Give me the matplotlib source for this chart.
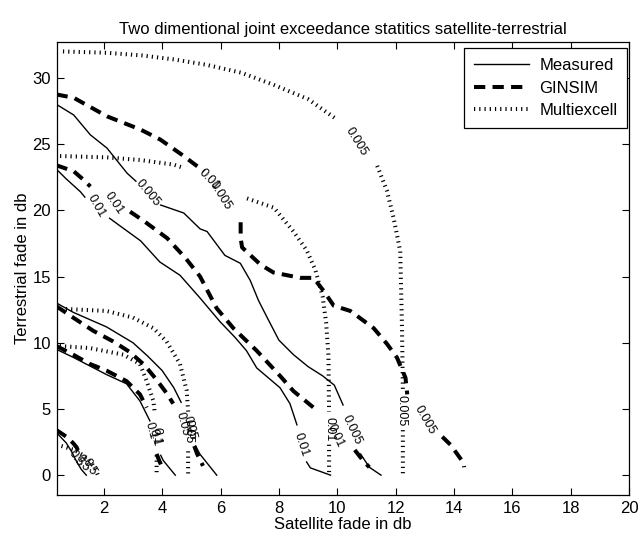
import numpy as np
import matplotlib
matplotlib.use("Agg")
import matplotlib.pyplot as plt

plt.rcParams['font.family'] = ['Liberation Sans', 'DejaVu Sans']

nan = np.nan

# ---------------- data (x = satellite fade dB, y = terrestrial fade dB) ----------------
# Measured contours
meas_0005_x = [0.38, 0.97, 1.54, 2.11, 2.8, 3.1, nan, 3.95, 4.74, 5.3, 5.54, 6.15, 6.68, 7.02, 7.3, 7.6, 8.0, 8.5, 9.0, 9.5, 9.9, 10.2, nan, 10.8, 11.1, 11.5]
meas_0005_y = [28.0, 27.2, 25.7, 24.7, 22.8, 22.2, nan, 20.4, 19.8, 18.6, 18.4, 16.6, 16.0, 14.7, 13.2, 11.9, 10.2, 9.1, 8.2, 7.5, 6.8, 5.3, nan, 1.6, 0.6, 0.0]
meas_001_x = [0.38, 0.7, 1.2, 1.35, nan, 2.2, 2.51, 3.26, 3.92, 4.61, 5.29, 5.98, 6.5, 6.89, 7.24, 8.04, 8.38, 8.62, nan, 8.95, 9.08, 9.77]
meas_001_y = [23.1, 22.4, 21.4, 21.0, nan, 19.4, 18.9, 17.7, 16.1, 15.1, 13.4, 11.6, 10.4, 9.4, 8.1, 6.6, 5.4, 3.8, nan, 1.0, 0.55, 0.0]
meas_005_x = [0.38, 0.95, 2.09, 3.0, 3.5, 4.0, 4.4, 4.65, nan, 5.15, 5.29, 5.87]
meas_005_y = [13.0, 12.3, 11.2, 10.0, 9.0, 7.9, 6.6, 5.5, nan, 2.2, 1.6, 0.0]
meas_01_x = [0.38, 0.95, 2.09, 2.78, 3.24, 3.58, nan, 3.95, 4.04, 4.45]
meas_01_y = [9.5, 8.9, 7.6, 6.9, 5.6, 4.1, nan, 1.5, 1.1, 0.0]
meas_05_x = [0.38, 0.71, 0.89, 1.06, 1.23, 1.4]
meas_05_y = [3.2, 2.44, 1.8, 1.06, 0.43, 0.0]

# GINSIM contours
gin_0005_x = [0.38, 0.97, 2.11, 3.26, 3.94, 4.74, 5.43, nan, 6.69, 6.69, 6.74, 7.37, 7.82, 8.74, 9.19, 9.54, 9.88, 10.45, 11.25, 11.71, 12.05, 12.34, 12.4, nan, 13.6, 13.88, 14.33, 14.35]
gin_0005_y = [28.75, 28.5, 27.1, 26.1, 25.34, 24.1, 22.95, nan, 19.1, 17.9, 17.2, 15.9, 15.3, 14.9, 14.9, 13.9, 12.8, 12.4, 11.1, 9.9, 8.87, 7.35, 6.1, nan, 2.9, 2.3, 0.93, 0.6]
gin_001_x = [0.38, 0.97, 1.31, 1.54, nan, 2.9, 3.37, 4.17, 4.8, 5.3, 5.87, 6.44, 7.24, 8.04, 8.5, 9.19, nan, 10.6, 10.9, 11.1]
gin_001_y = [23.4, 22.95, 22.3, 21.8, nan, 19.9, 19.2, 17.9, 16.4, 15.0, 12.6, 11.1, 9.4, 7.5, 6.35, 5.1, nan, 1.9, 1.06, 0.6]
gin_005_x = [0.38, 0.95, 1.64, 2.32, 2.89, 3.4, 3.81, 4.15, 4.38, nan, 5.1, 5.2, 5.4]
gin_005_y = [12.75, 11.9, 10.9, 10.1, 9.3, 8.3, 7.2, 6.2, 5.4, nan, 2.2, 1.6, 0.7]
gin_01_x = [0.38, 0.95, 1.52, 2.09, 2.78, 3.24, 3.47, nan, 3.81, 3.9, 4.0]
gin_01_y = [9.75, 9.1, 8.4, 7.9, 7.1, 6.1, 5.1, nan, 1.6, 1.1, 0.6]
gin_05_x = [0.38, 0.72, 0.94, 1.07, 1.17]
gin_05_y = [3.4, 2.9, 2.44, 2.1, 1.56]

# Multiexcell contours
mex_0005_x = [0.6, 2.1, 3.3, 4.4, 5.5, 6.7, 7.8, 9.0, 9.9, nan, 11.37, 11.7, 11.93, 12.16, 12.22, 12.25, nan, 12.25, 12.25]
mex_0005_y = [32.0, 31.9, 31.7, 31.4, 31.0, 30.4, 29.5, 28.4, 27.0, nan, 23.36, 21.5, 19.45, 16.9, 11.1, 6.4, nan, 3.4, 0.0]
mex_001_x = [0.5, 2.1, 3.26, 4.4, 4.74, nan, 6.91, 7.83, 8.5, 8.95, 9.25, 9.5, 9.62, 9.7, 9.72, nan, 9.72, 9.72]
mex_001_y = [24.1, 24.0, 23.8, 23.45, 23.2, nan, 20.9, 20.2, 18.4, 17.0, 15.5, 13.5, 11.5, 9.0, 4.8, nan, 2.3, 0.0]
mex_005_x = [0.7, 2.09, 3.0, 3.7, 4.15, 4.61, 4.84, 4.89, nan, 4.89, 4.89]
mex_005_y = [12.55, 12.4, 11.9, 11.1, 10.1, 8.4, 6.4, 4.8, nan, 1.8, 0.0]
mex_01_x = [0.49, 1.52, 2.67, 3.24, 3.47, 3.7, 3.75, nan, 3.81, 3.81]
mex_01_y = [9.75, 9.6, 9.1, 8.4, 7.1, 5.6, 4.6, nan, 1.5, 0.0]
mex_05_x = [0.55, 1.0, 1.3, 1.55, 1.7, 1.8]
mex_05_y = [2.2, 1.9, 1.5, 1.0, 0.5, 0.0]

# contour level labels: (text, x, y, angle)
labels_text = ["0.005", "0.01", "0.01", "0.005", "0.05", "0.1", "0.5",
               "0.005", "0.01", "0.01", "0.005", "0.05", "0.1", "0.5",
               "0.005", "0.01", "0.01", "0.005", "0.05", "0.1", "0.5"]
labels_x = [3.5, 1.75, 8.75, 10.5, 4.95, 3.75, 1.25,
            6.0, 2.35, 9.95, 13.0, 4.7, 3.6, 1.05,
            10.65, 5.6, 9.72, 12.22, 4.89, 3.81, 1.5]
labels_y = [21.3, 20.3, 2.3, 3.4, 3.6, 2.8, 0.9,
            21.1, 20.5, 3.0, 4.2, 3.9, 3.4, 1.3,
            25.2, 22.3, 3.5, 4.9, 3.3, 3.0, 0.6]
labels_rot = [-50, -60, -72, -65, -75, -75, -60,
              -58, -55, -65, -60, -75, -75, -55,
              -58, -45, -90, -90, -90, -90, -60]

xticks = list(range(2, 21, 2))
yticks = list(range(0, 31, 5))

# ---------------- figure ----------------
fig = plt.figure(figsize=(6.38, 5.34), dpi=100)
ax = fig.add_axes([0.0886, 0.073, 0.8973, 0.848])

meas_style = dict(color='black', lw=1.0, linestyle='-')
gin_style = dict(color='black', lw=2.9, linestyle=(0, (2.8, 1.8)), dash_capstyle='butt')
mex_style = dict(color='black', lw=2.9, linestyle=(0, (0.3, 1.0)), dash_capstyle='butt')

meas = [(meas_0005_x, meas_0005_y), (meas_001_x, meas_001_y), (meas_005_x, meas_005_y),
        (meas_01_x, meas_01_y), (meas_05_x, meas_05_y)]
gins = [(gin_0005_x, gin_0005_y), (gin_001_x, gin_001_y), (gin_005_x, gin_005_y),
        (gin_01_x, gin_01_y), (gin_05_x, gin_05_y)]
mexs = [(mex_0005_x, mex_0005_y), (mex_001_x, mex_001_y), (mex_005_x, mex_005_y),
        (mex_01_x, mex_01_y), (mex_05_x, mex_05_y)]

for i, (x, y) in enumerate(meas):
    ax.plot(x, y, label='Measured' if i == 0 else None, **meas_style)
for i, (x, y) in enumerate(gins):
    ax.plot(x, y, label='GINSIM' if i == 0 else None, **gin_style)
for i, (x, y) in enumerate(mexs):
    ax.plot(x, y, label='Multiexcell' if i == 0 else None, **mex_style)

for t, x, y, r in zip(labels_text, labels_x, labels_y, labels_rot):
    ax.text(x, y, t, rotation=r, rotation_mode='anchor', ha='center', va='center',
            fontsize=9, color='black')

ax.set_xlim(0.38, 20.0)
ax.set_ylim(-1.5, 32.7)
ax.set_xticks(xticks)
ax.set_yticks(yticks)
ax.tick_params(direction='in', top=True, right=True, length=5, width=0.8,
               labelsize=12, pad=4)
for s in ax.spines.values():
    s.set_linewidth(0.9)

ax.set_title("Two dimentional joint exceedance statitics satellite-terrestrial",
             fontsize=12, pad=6)
ax.set_xlabel("Satellite fade in db", fontsize=12, labelpad=1)
ax.set_ylabel("Terrestrial fade in db", fontsize=12, labelpad=2)

leg = ax.legend(loc='upper right', bbox_to_anchor=(0.997, 0.987), borderaxespad=0,
                fontsize=12, handlelength=3.3, handletextpad=0.6, labelspacing=0.45,
                fancybox=False, framealpha=1, edgecolor='black', borderpad=0.6)
leg.get_frame().set_linewidth(0.9)

fig.savefig("out.png", dpi=100)
